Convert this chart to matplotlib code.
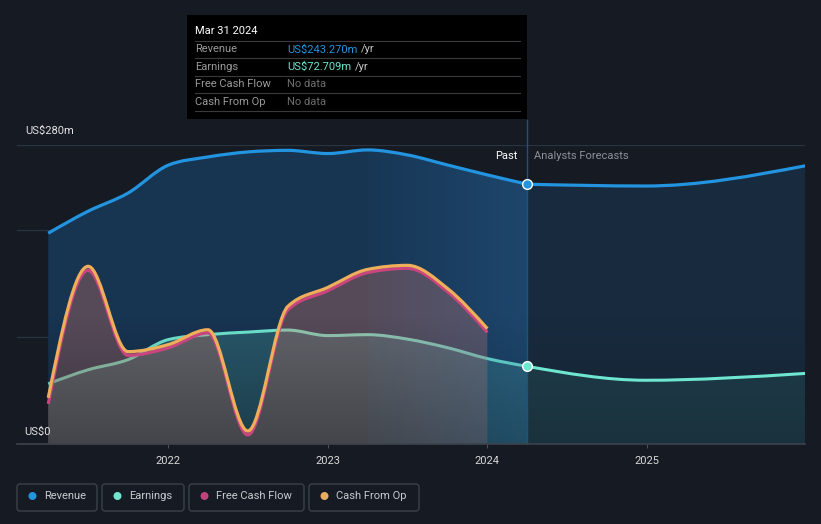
import numpy as np
import matplotlib
matplotlib.use("Agg")
import matplotlib.pyplot as plt
from matplotlib.path import Path
from matplotlib.patches import PathPatch, Rectangle, FancyBboxPatch, Circle
from matplotlib.lines import Line2D
from matplotlib.colors import to_rgb

plt.rcParams['font.family'] = ['Roboto', 'DejaVu Sans']

# ---- data (US$m) ----
past_x = [2021.25, 2021.5, 2021.75, 2022.0, 2022.25, 2022.5, 2022.75,
          2023.0, 2023.25, 2023.5, 2023.75, 2024.0, 2024.25]
revenue = [197.4, 218, 235, 261, 268.8, 273.5, 275, 272, 275.4, 270.7, 261.3, 252, 243.27]
earnings = [56.4, 69.5, 79, 97.7, 102.4, 104.8, 106.7, 101.5, 102.4, 98.2, 90.2, 80, 72.709]

cf_x = past_x[:-1]
cash_op = [43.2, 166.4, 86.5, 93, 107, 12.2, 128.8, 146.6, 163.5, 167.3, 145.7, 108]
fcf = [37.6, 162.6, 83, 90, 104, 8.5, 125.5, 143.5, 160.5, 164.5, 142.7, 104.5]

fc_x = [2024.25, 2024.99, 2025.99]
revenue_fc = [243.27, 241.6, 260.5]
earnings_fc = [72.709, 59.7, 66.1]

years = [2022, 2023, 2024, 2025]
legend_items = ["Revenue", "Earnings", "Free Cash Flow", "Cash From Op"]

BG = "#151a23"
C_REV = "#2394df"
C_EARN = "#6ee6d0"
C_FCF = "#c9457f"
C_CASH = "#eeae5a"

W, H = 821, 524


def fx(x):
    return x / W


def fy(y):
    return (H - y) / H


def mono_path(xs, ys, close=False):
    # smooth monotone curve drawn as cubic bezier segments
    xs = np.asarray(xs, float)
    ys = np.asarray(ys, float)
    n = len(xs)
    h = np.diff(xs)
    s = np.diff(ys) / h
    m = np.zeros(n)
    for k in range(1, n - 1):
        if s[k - 1] * s[k] <= 0:
            m[k] = 0
        else:
            p = (s[k - 1] * h[k] + s[k] * h[k - 1]) / (h[k - 1] + h[k])
            m[k] = np.sign(s[k]) * min(abs(s[k - 1]), abs(s[k]), 0.5 * abs(p)) * 2
    m[0] = (3 * s[0] - m[1]) / 2 if n > 2 else s[0]
    m[-1] = (3 * s[-1] - m[-2]) / 2 if n > 2 else s[-1]
    verts = [(xs[0], ys[0])]
    codes = [Path.MOVETO]
    for k in range(n - 1):
        d = h[k] / 3
        verts += [(xs[k] + d, ys[k] + m[k] * d),
                  (xs[k + 1] - d, ys[k + 1] - m[k + 1] * d),
                  (xs[k + 1], ys[k + 1])]
        codes += [Path.CURVE4] * 3
    if close:
        verts += [(xs[-1], 0), (xs[0], 0), (xs[0], 0)]
        codes += [Path.LINETO, Path.LINETO, Path.CLOSEPOLY]
    return Path(verts, codes)


def shade(ax, x0, x1, top, amax, clip):
    # dark vertical gradient, stronger near the baseline
    g = np.zeros((64, 1, 4))
    g[:, 0, 3] = np.linspace(0, amax, 64)
    im = ax.imshow(g, extent=[x0, x1, 0, top], aspect="auto", zorder=1.4,
                   interpolation="bilinear")
    im.set_clip_path(clip)


def glow(ax, x0, x1, top, color, a0, a1, clip):
    # horizontal highlight gradient, brighter to the right
    g = np.zeros((1, 64, 4))
    g[0, :, :3] = to_rgb(color)
    g[0, :, 3] = np.linspace(a0, a1, 64)
    im = ax.imshow(g, extent=[x0, x1, 0, top], aspect="auto", zorder=1.5,
                   interpolation="bilinear")
    im.set_clip_path(clip)


fig = plt.figure(figsize=(W / 100, H / 100), dpi=100, facecolor=BG)
ax = fig.add_axes([fx(17), fy(444), fx(805) - fx(17), fy(145) - fy(444)])
ax.set_facecolor(BG)
for sp in ax.spines.values():
    sp.set_visible(False)
ax.set_yticks([])

# grid lines
for g in [100, 200, 280]:
    ax.axhline(g, color="#2b333e", lw=0.9, zorder=0.5)
ax.axhline(0, color="#3d434c", lw=1.2, zorder=6, clip_on=False)

# revenue fills
rev_fill = PathPatch(mono_path(past_x, revenue, True), fc="#173451", ec="none", zorder=1)
ax.add_patch(rev_fill)
rev_fc_fill = PathPatch(mono_path(fc_x, revenue_fc, True), fc="#182b3e", ec="none", zorder=1)
ax.add_patch(rev_fc_fill)

# earnings fills and line
ax.add_patch(PathPatch(mono_path(past_x, earnings, True), fc=C_EARN, alpha=0.2, ec="none", zorder=1.1))
ax.add_patch(PathPatch(mono_path(fc_x, earnings_fc, True), fc=C_EARN, alpha=0.10, ec="none", zorder=1.1))
ax.add_patch(PathPatch(mono_path(past_x, earnings), fc="none", ec=C_EARN, lw=2.2, zorder=1.2))
ax.add_patch(PathPatch(mono_path(fc_x, earnings_fc), fc="none", ec=C_EARN, lw=2.2, zorder=3))

# cash flow fills
ax.add_patch(PathPatch(mono_path(cf_x, cash_op, True), fc="#e8806a", alpha=0.3, ec="none", zorder=1.3))

shade(ax, 2021.25, 2024.25, 120, 0.3, rev_fill)
shade(ax, 2024.25, 2025.99, 120, 0.2, rev_fc_fill)

# highlighted last year
glow(ax, 2023.25, 2024.25, 280, "#3d9df0", 0.03, 0.17, rev_fill)

# lines
ax.add_patch(PathPatch(mono_path(past_x, revenue), fc="none", ec=C_REV, lw=2.3, zorder=3))
ax.add_patch(PathPatch(mono_path(fc_x, revenue_fc), fc="none", ec=C_REV, lw=2.3, zorder=3))
ax.add_patch(PathPatch(mono_path(cf_x, fcf), fc="none", ec=C_FCF, lw=2.3, zorder=3.1))
ax.add_patch(PathPatch(mono_path(cf_x, cash_op), fc="none", ec=C_CASH, lw=2.3, zorder=3.2))

# past / forecast divider
ax.plot([2024.25, 2024.25], [0, 303], color="#1f5478", lw=1.0, zorder=2.5, clip_on=False)
ax.plot([2024.25], [revenue[-1]], 'o', ms=7, mfc=C_REV, mec="white", mew=1.0, zorder=5)
ax.plot([2024.25], [earnings[-1]], 'o', ms=7, mfc=C_EARN, mec="white", mew=1.0, zorder=5)

ax.set_xlim(2021.0545, 2025.989)
ax.set_ylim(0, 280)
ax.set_xticks(years)
ax.set_xticklabels([str(y) for y in years], color="#d8d8d8", fontsize=8)
ax.tick_params(axis='x', length=3, color="#4a505a", pad=6)

fig.text(fx(517), fy(156), "Past", color="#ffffff", fontsize=8, ha="right", va="center")
fig.text(fx(534), fy(156), "Analysts Forecasts", color="#8b9099", fontsize=8, ha="left", va="center")
fig.text(fx(25), fy(131), "US$280m", color="#e2e2e2", fontsize=8, ha="left", va="center")
fig.text(fx(24), fy(432), "US$0", color="#e2e2e2", fontsize=8, ha="left", va="center")

# tooltip
fig.add_artist(Rectangle((fx(187), fy(119)), fx(527) - fx(187), fy(15) - fy(119),
                         transform=fig.transFigure, fc="#000000", ec="none", zorder=10))
fig.text(fx(195), fy(31), "Mar 31 2024", color="#ffffff", fontsize=8, va="center", zorder=11)
for ly in [41, 58, 76, 93, 111]:
    fig.add_artist(Line2D([fx(195), fx(520)], [fy(ly), fy(ly)], transform=fig.transFigure,
                          color="#3a3a3a", lw=0.8, zorder=11))
rows = [("Revenue", "US$243.270m", C_REV), ("Earnings", "US$72.709m", C_EARN),
        ("Free Cash Flow", "No data", None), ("Cash From Op", "No data", None)]
for i, (lab, val, col) in enumerate(rows):
    yy = fy(49.5 + i * 17.4)
    fig.text(fx(195), yy, lab, color="#9a9a9a", fontsize=8, va="center", zorder=11)
    if col is None:
        fig.text(fx(287), yy, val, color="#6e6e6e", fontsize=8, va="center", zorder=11)
    else:
        t = fig.text(fx(287), yy, val, color=col, fontsize=8, va="center", zorder=11)
        fig.canvas.draw()
        bb = t.get_window_extent()
        fig.text(bb.x1 / W + fx(4), yy, "/yr", color="#c8c8c8", fontsize=8, va="center", zorder=11)

# legend
boxes = [(17, 97), (102, 184), (189, 304), (309, 419)]
dots = [C_REV, C_EARN, "#c0447c", "#e8ad5c"]
for (x0, x1), lab, col in zip(boxes, legend_items, dots):
    fig.add_artist(FancyBboxPatch((x0 / 100, (H - 511) / 100), (x1 - x0) / 100, 27 / 100,
                                  boxstyle="round,pad=0,rounding_size=0.03",
                                  transform=fig.dpi_scale_trans, fc="none", ec="#3b414a", lw=1))
    fig.add_artist(Circle(((x0 + 15.5) / 100, (H - 496) / 100), 0.04,
                          transform=fig.dpi_scale_trans, fc=col, ec="none"))
    fig.text(fx(x0 + 27), fy(496), lab, color="#c8ccd0", fontsize=8, va="center")

fig.savefig("out.png", dpi=100, facecolor=BG)
